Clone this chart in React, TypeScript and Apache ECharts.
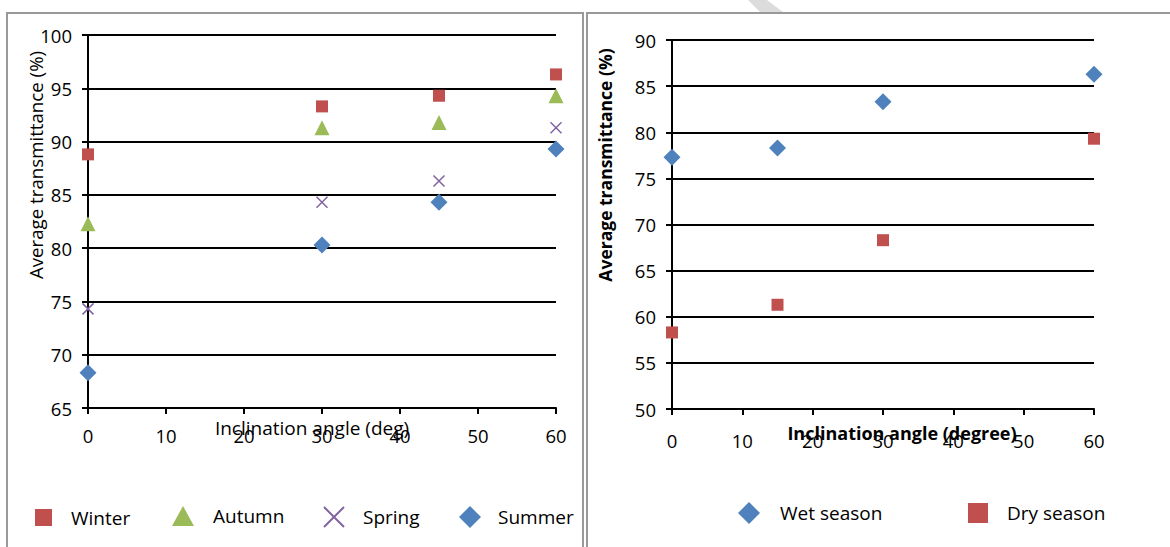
import React, { useEffect, useRef } from "react";
import * as echarts from "echarts";

const anglesL = [0, 30, 45, 60];
const winter = [88.8, 93.3, 94.3, 96.3];
const autumn = [82.3, 91.3, 91.8, 94.3];
const spring = [74.3, 84.3, 86.3, 91.3];
const summer = [68.3, 80.3, 84.3, 89.3];

const anglesR = [0, 15, 30, 60];
const wet = [77.3, 78.3, 83.3, 86.3];
const dry = [58.3, 61.3, 68.3, 79.3];

const FONT = "'Open Sans', 'Liberation Sans', sans-serif";
const CROSS = "path://M0,0L10,10M10,0L0,10";

const pairs = (xs: number[], ys: number[]) => xs.map((x, i) => [x, ys[i]]);

export default function App() {
  const ref = useRef<HTMLDivElement>(null);
  useEffect(() => {
    if (!ref.current) return;
    const chart = echarts.init(ref.current, null, { renderer: "svg" });
    const axisCommon = {
      axisLine: { show: true, lineStyle: { color: "#000", width: 2 } },
      axisTick: { show: true, inside: false, length: 6, lineStyle: { color: "#000", width: 2 } },
      axisLabel: { color: "#000", fontSize: 18.5, fontFamily: FONT },
      splitLine: { show: false },
    };
    const legendItem = (name: string, left: number, top: number, w = 18, h = 18, pad = 15) => ({
      data: [name],
      left,
      top,
      itemWidth: w,
      itemHeight: h,
      itemGap: 0,
      textStyle: { color: "#000", fontSize: 19, fontFamily: FONT, padding: [0, 0, 0, pad] },
      padding: 0,
    });
    chart.setOption({
      animation: false,
      backgroundColor: "#fff",
      grid: [
        { left: 88, right: 1170 - 556, top: 35, bottom: 547 - 408 },
        { left: 672, right: 1170 - 1094, top: 40, bottom: 547 - 409 },
      ],
      xAxis: [
        {
          ...axisCommon,
          gridIndex: 0,
          type: "value",
          min: 0,
          max: 60,
          interval: 10,
          axisLabel: { ...axisCommon.axisLabel, margin: 18 },
        },
        {
          ...axisCommon,
          gridIndex: 1,
          type: "value",
          min: 0,
          max: 60,
          interval: 10,
          axisLabel: { ...axisCommon.axisLabel, margin: 22 },
        },
      ],
      yAxis: [
        {
          ...axisCommon,
          gridIndex: 0,
          type: "value",
          min: 65,
          max: 100,
          interval: 5,
          axisLabel: { ...axisCommon.axisLabel, margin: 16 },
          splitLine: { show: true, lineStyle: { color: "#000", width: 2 } },
        },
        {
          ...axisCommon,
          gridIndex: 1,
          type: "value",
          min: 50,
          max: 90,
          interval: 5,
          axisLabel: { ...axisCommon.axisLabel, margin: 16 },
          splitLine: { show: true, lineStyle: { color: "#000", width: 2 } },
        },
      ],
      legend: [
        legendItem("Winter", 35, 508, 17, 17, 14),
        legendItem("Autumn", 172, 506, 22, 20, 14),
        legendItem("Spring", 323, 506, 22, 20, 13),
        legendItem("Summer", 459, 506, 22, 22, 12),
        legendItem("Wet season", 738, 502, 22, 22, 15),
        legendItem("Dry season", 968, 503, 20, 20, 14),
      ],
      series: [
        {
          name: "Winter",
          type: "scatter",
          xAxisIndex: 0,
          yAxisIndex: 0,
          symbol: "rect",
          symbolSize: 12,
          itemStyle: { color: "#C0504D", opacity: 1 },
          data: pairs(anglesL, winter),
        },
        {
          name: "Autumn",
          type: "scatter",
          xAxisIndex: 0,
          yAxisIndex: 0,
          symbol: "triangle",
          symbolSize: 15,
          itemStyle: { color: "#9BBB59", opacity: 1 },
          data: pairs(anglesL, autumn),
        },
        {
          name: "Spring",
          type: "scatter",
          xAxisIndex: 0,
          yAxisIndex: 0,
          symbol: CROSS,
          symbolSize: 11,
          itemStyle: { color: "transparent", borderColor: "#8064A2", borderWidth: 1.5, opacity: 1 },
          data: pairs(anglesL, spring),
        },
        {
          name: "Summer",
          type: "scatter",
          xAxisIndex: 0,
          yAxisIndex: 0,
          symbol: "diamond",
          symbolSize: 17,
          itemStyle: { color: "#4F81BD", opacity: 1 },
          data: pairs(anglesL, summer),
        },
        {
          name: "Wet season",
          type: "scatter",
          xAxisIndex: 1,
          yAxisIndex: 1,
          symbol: "diamond",
          symbolSize: 17,
          itemStyle: { color: "#4F81BD", opacity: 1 },
          data: pairs(anglesR, wet),
        },
        {
          name: "Dry season",
          type: "scatter",
          xAxisIndex: 1,
          yAxisIndex: 1,
          symbol: "rect",
          symbolSize: 12,
          itemStyle: { color: "#C0504D", opacity: 1 },
          data: pairs(anglesR, dry),
        },
      ],
      graphic: [
        {
          type: "polygon",
          shape: { points: [[748, 0], [767, 0], [783, 12], [760, 12]] },
          style: { fill: "#dcdcdc" },
          silent: true,
          z: -2,
        },
        {
          type: "rect",
          shape: { x: 7, y: 13, width: 576, height: 545 },
          style: { fill: "none", stroke: "#999", lineWidth: 2 },
          silent: true,
          z: -1,
        },
        {
          type: "rect",
          shape: { x: 587, y: 13, width: 600, height: 545 },
          style: { fill: "none", stroke: "#999", lineWidth: 2 },
          silent: true,
          z: -1,
        },
        {
          type: "text",
          x: 35,
          y: 165,
          rotation: Math.PI / 2,
          style: {
            text: "Average transmittance (%)",
            fill: "#000",
            fontSize: 18.7,
            fontFamily: FONT,
            align: "center",
            verticalAlign: "middle",
          },
        },
        {
          type: "text",
          x: 605,
          y: 165,
          rotation: Math.PI / 2,
          style: {
            text: "Average transmittance (%)",
            fill: "#000",
            fontSize: 17.5,
            fontWeight: "bold",
            fontFamily: FONT,
            align: "center",
            verticalAlign: "middle",
          },
        },
        {
          type: "text",
          x: 312,
          y: 428,
          style: {
            text: "Inclination angle (deg)",
            fill: "#000",
            fontSize: 19,
            fontFamily: FONT,
            align: "center",
            verticalAlign: "middle",
          },
        },
        {
          type: "text",
          x: 902,
          y: 433,
          style: {
            text: "Inclination angle (degree)",
            fill: "#000",
            fontSize: 18,
            fontWeight: "bold",
            fontFamily: FONT,
            align: "center",
            verticalAlign: "middle",
          },
        },
      ],
    });
    return () => chart.dispose();
  }, []);
  return (
    <div
      ref={ref}
      style={{ position: "fixed", left: 0, top: 0, width: 1170, height: 547 }}
    />
  );
}
